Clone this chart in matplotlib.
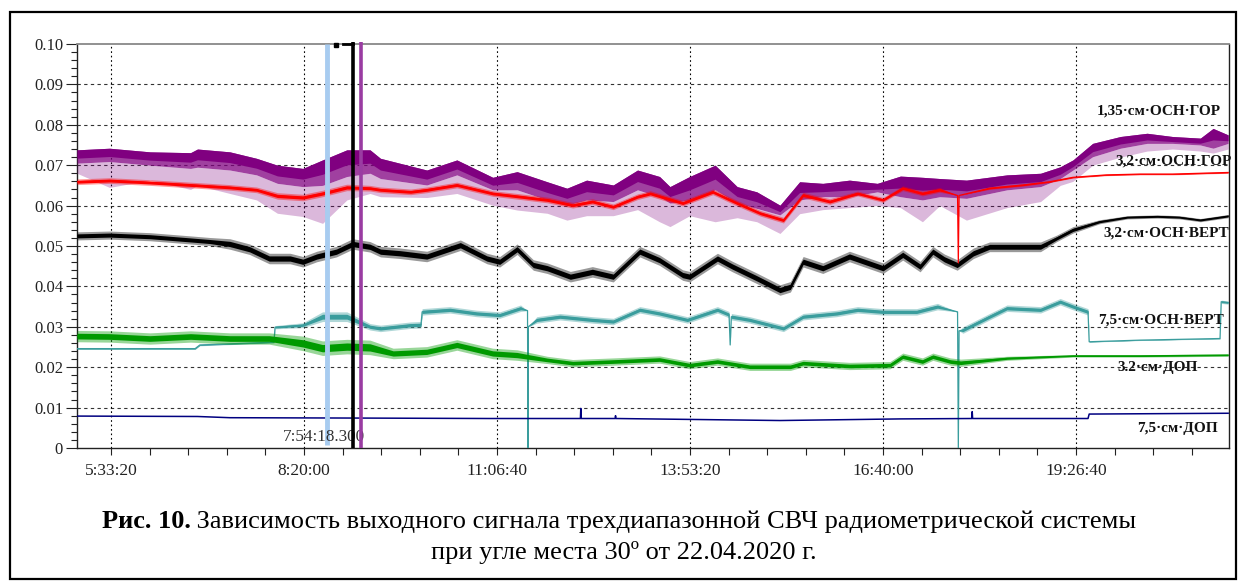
import numpy as np
import matplotlib
matplotlib.use("Agg")
import matplotlib.pyplot as plt
from matplotlib.ticker import FixedLocator, MultipleLocator, FuncFormatter
from matplotlib.patches import Rectangle

plt.rcParams["font.family"] = ["Liberation Serif", "DejaVu Serif"]


def sec(s):
    p = [int(v) for v in s.split(":")]
    p += [0] * (3 - len(p))
    return p[0] * 3600 + p[1] * 60 + p[2]


# 1,35 см ОСН ГОР (purple): upper edge, lower edge of dense part, tips of spikes
purple_t = ["5:04", "5:32", "6:07", "6:42", "6:48", "7:16", "7:39", "7:57", "8:19", "8:36",
            "8:57", "9:17", "9:26", "10:06", "10:32", "11:03", "11:24", "11:50", "12:07", "12:24",
            "12:47", "13:08", "13:27", "13:36", "13:53", "14:15", "14:34", "14:51", "15:11", "15:28",
            "15:48", "16:11", "16:35", "16:55", "17:14", "17:29", "17:52", "18:27", "18:56", "19:13",
            "19:24", "19:41", "20:05", "20:28", "20:50", "21:14", "21:25", "21:38"]
purple_hi = [.0738, .0742, .0733, .0731, .0740, .0733, .0717, .0700, .0692, .0713,
             .0738, .0738, .0717, .0688, .0713, .0670, .0684, .0659, .0643, .0663,
             .0651, .0688, .0672, .0647, .0672, .0700, .0647, .0634, .0601, .0659,
             .0655, .0663, .0655, .0673, .0670, .0667, .0663, .0676, .0680, .0696,
             .0713, .0754, .0771, .0779, .0771, .0767, .0791, .0775]
purple_lo = [.0705, .0709, .0700, .0692, .0695, .0688, .0676, .0655, .0647, .0650,
             .0672, .0680, .0667, .0651, .0676, .0639, .0639, .0614, .0601, .0614,
             .0610, .0639, .0622, .0606, .0614, .0639, .0606, .0593, .0577, .0614,
             .0622, .0622, .0634, .0622, .0614, .0622, .0618, .0639, .0647, .0667,
             .0688, .0721, .0742, .0754, .0754, .0750, .0742, .0754]
purple_min = [.0680, .0645, .0663, .0640, .0650, .0630, .0614, .0581, .0573, .0556,
              .0614, .0630, .0622, .0620, .0630, .0601, .0589, .0581, .0564, .0575,
              .0575, .0590, .0560, .0548, .0575, .0560, .0570, .0560, .0531, .0580,
              .0590, .0595, .0600, .0595, .0560, .0600, .0564, .0595, .0610, .0650,
              .0660, .0700, .0720, .0735, .0740, .0735, .0730, .0740]

# 3,2 см ОСН ГОР (red)
red_t = ["5:04", "5:32", "6:07", "6:42", "7:16", "7:39", "7:57", "8:19", "8:36", "8:57",
         "9:17", "9:26", "9:52", "10:06", "10:32", "11:03", "11:27", "11:50", "12:12", "12:29",
         "12:47", "13:08", "13:19", "13:47", "14:13", "14:34", "14:54", "15:14", "15:31", "15:54",
         "16:18", "16:40", "16:57", "17:14", "17:29", "17:44:20", "17:45", "17:45:40", "18:12", "18:41",
         "19:04", "19:24", "19:53", "20:22", "20:50", "21:38"]
red_v = [.0659, .0662, .0657, .0651, .0645, .0639, .0624, .0620, .0630, .0645,
         .0643, .0639, .0634, .0639, .0651, .0630, .0622, .0614, .0601, .0610,
         .0597, .0622, .0630, .0606, .0634, .0606, .0581, .0564, .0626, .0610,
         .0630, .0614, .0643, .0630, .0639, .0625, .0458, .0625, .0643, .0651,
         .0659, .0670, .0676, .0678, .0678, .0682]
red_s = [.0007, .0007, .0007, .0007, .0007, .0007, .0008, .0008, .0008, .0008,
         .0007, .0007, .0007, .0007, .0007, .0007, .0007, .0007, .0007, .0007,
         .0007, .0007, .0007, .0007, .0007, .0007, .0007, .0007, .0007, .0007,
         .0006, .0006, .0006, .0006, .0006, 0, 0, 0, .0003, .0003,
         .0002, .0002, .0002, .0002, .0002, .0002]

# 3,2 см ОСН ВЕРТ (black)
black_t = ["5:04", "5:32", "6:07", "6:42", "6:59", "7:16", "7:33", "7:50", "8:08", "8:19",
           "8:31", "8:48", "9:02", "9:17", "9:26", "9:43", "10:06", "10:35", "10:58", "11:09",
           "11:24", "11:38", "11:50", "12:10", "12:29", "12:47", "13:10", "13:27", "13:47", "13:53",
           "14:17", "14:30", "14:51", "15:11", "15:20", "15:31", "15:48", "16:11", "16:40", "16:57",
           "17:12", "17:23", "17:33", "17:44", "17:58", "18:12", "18:41", "18:56", "19:10", "19:24",
           "19:47", "20:11", "20:37", "20:56", "21:14", "21:38"]
black_v = [.0525, .0527, .0523, .0515, .0511, .0505, .0492, .0469, .0469, .0461,
           .0474, .0486, .0505, .0498, .0486, .0482, .0474, .0502, .0469, .0461,
           .0492, .0453, .0445, .0424, .0436, .0424, .0486, .0465, .0428, .0424,
           .0469, .0449, .0420, .0391, .0399, .0461, .0445, .0474, .0445, .0478,
           .0449, .0486, .0467, .0453, .0482, .0498, .0498, .0498, .0519, .0540,
           .0560, .0571, .0573, .0571, .0564, .0574]
black_s = [.0010, .0010, .0010, .0010, .0010, .0013, .0013, .0013, .0013, .0013,
           .0013, .0013, .0013, .0013, .0013, .0013, .0013, .0013, .0013, .0013,
           .0013, .0013, .0013, .0013, .0013, .0013, .0013, .0013, .0013, .0013,
           .0013, .0013, .0013, .0013, .0013, .0013, .0013, .0013, .0013, .0013,
           .0013, .0013, .0013, .0013, .0013, .0012, .0012, .0012, .0008, .0008,
           .0005, .0004, .0004, .0004, .0004, .0004]

# 7,5 см ОСН ВЕРТ (teal)
teal_t = ["5:04", "6:46", "6:50", "7:54", "7:55", "8:19", "8:36", "8:57", "9:17", "9:26",
          "9:52", "10:01", "10:02", "10:26", "10:49", "11:09", "11:27", "11:33", "11:33:20", "11:33:40",
          "11:41", "12:01", "12:29", "12:47", "13:10", "13:27", "13:51", "14:17", "14:27", "14:28",
          "14:29", "14:45", "15:14", "15:31", "16:00", "16:18", "16:40", "17:09", "17:27", "17:44:20",
          "17:45", "17:45:40", "17:49", "18:12", "18:27", "18:56", "19:13", "19:24", "19:37", "19:38",
          "20:22", "21:31", "21:32", "21:38"]
teal_v = [.0246, .0246, .0255, .0262, .0299, .0304, .0325, .0325, .0300, .0296,
          .0304, .0305, .0337, .0342, .0333, .0329, .0346, .0340, .0000, .0300,
          .0317, .0325, .0317, .0313, .0342, .0333, .0317, .0342, .0330, .0255,
          .0325, .0317, .0296, .0325, .0333, .0342, .0337, .0337, .0350, .0337,
          .0000, .0290, .0292, .0325, .0346, .0342, .0362, .0350, .0337, .0263,
          .0267, .0271, .0362, .0360]
teal_s = [.0002, .0002, .0002, .0002, .0004, .0006, .0012, .0012, .0008, .0008,
          .0008, .0008, .0008, .0008, .0008, .0008, .0008, 0, 0, 0,
          .0008, .0008, .0008, .0008, .0008, .0008, .0008, .0008, .0008, 0,
          .0008, .0008, .0008, .0008, .0008, .0008, .0008, .0008, .0008, 0,
          0, 0, .0008, .0008, .0008, .0008, .0008, .0008, .0008, .0001,
          .0001, .0001, .0004, .0004]

# 3.2 см ДОП (green)
green_t = ["5:04", "5:32", "6:07", "6:42", "7:16", "7:50", "8:19", "8:36", "8:57", "9:17",
           "9:37", "10:06", "10:32", "11:03", "11:24", "11:50", "12:12", "12:47", "13:27", "13:53",
           "14:17", "14:45", "15:20", "15:31", "16:11", "16:46", "16:57", "17:14", "17:23", "17:38",
           "17:47", "18:27", "19:24", "20:22", "21:38"]
green_v = [.0277, .0276, .0271, .0276, .0271, .0271, .0259, .0247, .0251, .0249,
           .0234, .0238, .0255, .0234, .0230, .0218, .0210, .0214, .0219, .0205,
           .0214, .0201, .0201, .0210, .0203, .0205, .0226, .0214, .0226, .0214,
           .0211, .0222, .0228, .0228, .0230]
green_s = [.0014, .0014, .0014, .0014, .0014, .0014, .0018, .0018, .0018, .0018,
           .0013, .0013, .0013, .0013, .0013, .0009, .0009, .0009, .0009, .0009,
           .0009, .0009, .0009, .0009, .0009, .0009, .0009, .0009, .0009, .0009,
           .0009, .0005, .0003, .0003, .0003]

# 7,5 см ДОП (navy)
navy_t = ["5:04", "6:48", "7:16", "9:17", "11:00", "12:18:40", "12:19", "12:19:20", "12:48:40", "12:49",
          "12:49:20", "15:11", "16:55", "17:56:40", "17:57", "17:57:20", "19:37", "19:38", "21:38"]
navy_v = [.0079, .0078, .0075, .0074, .0073, .0073, .0098, .0073, .0073, .0080,
          .0073, .0068, .0072, .0073, .0090, .0073, .0073, .0084, .0086]

cursor_t = ["8:39:51", "9:02:18", "9:09:13"]
cursor_label = "7:54:18.300"
x_major = [20000, 30000, 40000, 50000, 60000, 70000]
y_major = [0, 0.01, 0.02, 0.03, 0.04, 0.05, 0.06, 0.07, 0.08, 0.09, 0.10]
y_labels = ["0", "0.01", "0.02", "0.03", "0.04", "0.05", "0.06", "0.07", "0.08", "0.09", "0.10"]

fig = plt.figure(figsize=(12.39, 5.81), dpi=100)
ax = fig.add_axes([77 / 1239, 1 - 448 / 581, 1152 / 1239, 404 / 581])


def tsec(lst):
    return np.array([sec(v) for v in lst])


def band(t, v, s, color, z):
    # noisy trace: pale outer envelope, solid inner core, centre line
    t = tsec(t)
    v = np.array(v)
    s = np.array(s)
    ax.fill_between(t, v - s, v + s, color=color, lw=0, alpha=0.4, zorder=z)
    ax.fill_between(t, v - s * 0.5, v + s * 0.5, color=color, lw=0, zorder=z)
    ax.plot(t, v, color=color, lw=0.9, zorder=z)


tp = tsec(purple_t)
ax.fill_between(tp, purple_min, purple_lo, color="#800080", alpha=0.28, lw=0, zorder=3)
ax.fill_between(tp, purple_lo, purple_hi, color="#800080", alpha=0.75, lw=0, zorder=3)
ax.fill_between(tp, (np.array(purple_lo) + np.array(purple_hi)) / 2 - 0.0004,
                purple_hi, color="#800080", lw=0, zorder=3)
band(red_t, red_v, red_s, "#ff0000", 4)
band(black_t, black_v, black_s, "#000000", 3)
band(teal_t, teal_v, teal_s, "#3a9d9d", 3)
band(green_t, green_v, green_s, "#009a00", 4)
ax.plot(tsec(navy_t), navy_v, color="#000080", lw=1.1, zorder=4)

# cursors
tc = tsec(cursor_t)
ax.plot([tc[0], tc[0]], [0.0008, 0.1], color="#a8ccf0", lw=3.5, zorder=5, solid_capstyle="butt")
ax.plot([tc[1], tc[1]], [0, 0.1005], color="black", lw=2.6, zorder=7, clip_on=False,
        solid_capstyle="butt")
ax.plot([tc[2], tc[2]], [0, 0.1005], color="#9a3ca2", lw=2.6, zorder=7, clip_on=False,
        solid_capstyle="butt")
ax.plot([tc[1] - 500, tc[1]], [0.1, 0.1], color="black", lw=2, zorder=7, clip_on=False)
ax.plot([tc[1] - 900], [0.0997], "s", color="black", ms=2.5, zorder=7, clip_on=False)
ax.text(tc[0] - 150, 0.0027, cursor_label, fontsize=12.3, color="#333333",
        ha="center", va="center", zorder=6)

# series labels
lab_kw = dict(fontsize=11, fontweight="bold", color="#111111", ha="left", va="center", zorder=8)
ax.text(71085, 0.0834, "1,35·см·ОСН·ГОР", **lab_kw)
ax.text(72017, 0.0710, "3,2·см·ОСН·ГОР", **lab_kw)
ax.text(71396, 0.0532, "3,2·см·ОСН·ВЕРТ", **lab_kw)
ax.text(71137, 0.0317, "7,5·см·ОСН·ВЕРТ", **lab_kw)
ax.text(72120, 0.0200, "3.2·см·ДОП", **lab_kw)
ax.text(73156, 0.0049, "7,5·см·ДОП", **lab_kw)

ax.set_xlim(18238, 77924)
ax.set_ylim(0, 0.1)
ax.xaxis.set_major_locator(FixedLocator(x_major))
ax.xaxis.set_minor_locator(MultipleLocator(2000))
ax.xaxis.set_major_formatter(FuncFormatter(
    lambda v, p: "%d:%02d:%02d" % (v // 3600, (v % 3600) // 60, v % 60)))
ax.yaxis.set_major_locator(FixedLocator(y_major))
ax.yaxis.set_minor_locator(MultipleLocator(0.002))
ax.set_yticklabels(y_labels)
ax.tick_params(axis="both", which="major", colors="#222222", width=0.8)
ax.tick_params(axis="y", which="minor", length=4, width=0.8, color="#222222")
ax.tick_params(axis="x", which="minor", length=5, width=0.8, color="#222222")
ax.tick_params(axis="x", which="major", length=5, pad=6, labelsize=12.5)
ax.tick_params(axis="y", which="major", length=8, pad=2, labelsize=12)

for y in y_major[1:-1]:
    ax.axhline(y, color="#333333", lw=0.8, ls=(0, (3, 3)), zorder=1)
for x in x_major:
    ax.axvline(x, color="black", lw=0.8, ls=(0, (1.5, 2.5)), zorder=1)

ax.spines["top"].set_color("#888888")
ax.spines["top"].set_linewidth(1.3)
for s in ["left", "right", "bottom"]:
    ax.spines[s].set_color("#222222")
    ax.spines[s].set_linewidth(1.0)

# outer frame
fig.patches.append(Rectangle((10 / 1239, 0.003), 1226 / 1239, 1 - 12 / 581 - 0.003,
                             transform=fig.transFigure, fill=False, lw=1.6,
                             edgecolor="black"))

# caption
t1 = fig.text(0, 1 - 522 / 581, "Рис. 10.", fontsize=19, fontweight="bold", va="center")
t2 = fig.text(0, 1 - 522 / 581,
              " Зависимость выходного сигнала трехдиапазонной СВЧ радиометрической системы",
              fontsize=19, va="center")
r = fig.canvas.get_renderer()
w1 = t1.get_window_extent(r).width / fig.bbox.width
w2 = t2.get_window_extent(r).width / fig.bbox.width
x0 = 619 / 1239 - (w1 + w2) / 2
t1.set_x(x0)
t2.set_x(x0 + w1)
fig.text(624 / 1239, 1 - 553 / 581, "при угле места 30º от 22.04.2020 г.", fontsize=19,
         ha="center", va="center")

fig.savefig("out.png", dpi=100)
